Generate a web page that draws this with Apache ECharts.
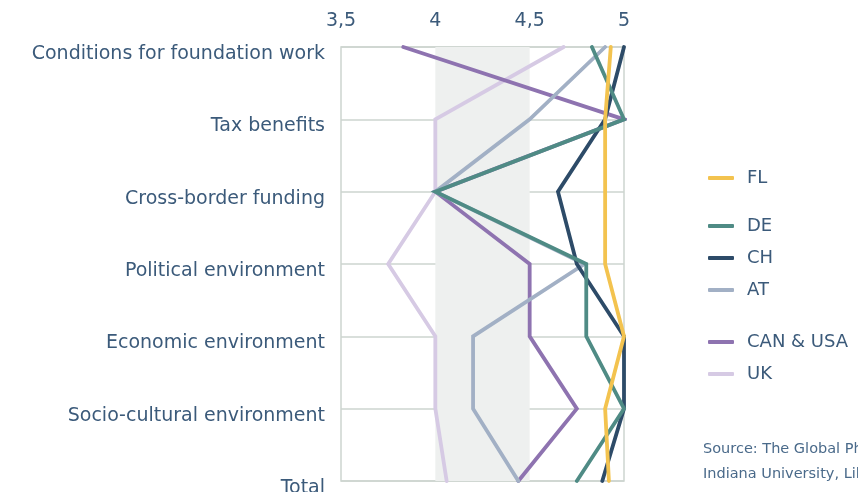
<!DOCTYPE html>
<html lang="en">
<head>
    <meta charset="UTF-8">
    <title>Philanthropy environment</title>
  <style>
    html, body { margin: 0; padding: 0; background: #fff; }
    #chart { width: 858px; height: 492px; }
  </style>
</head>
<body>
<div id="chart"></div>
<script src="https://cdn.jsdelivr.net/npm/echarts@6/dist/echarts.min.js"></script>
<script>
  // data
  const categories = ['Conditions for foundation work', 'Tax benefits', 'Cross-border funding',
    'Political environment', 'Economic environment', 'Socio-cultural environment', 'Total'];
  const fl  = [4.93, 4.9, 4.9, 4.9, 5.0, 4.9, 4.92];
  const de  = [4.83, 5.0, 4.0, 4.8, 4.8, 5.0, 4.75];
  const ch  = [5.0, 4.9, 4.65, 4.75, 5.0, 5.0, 4.885];
  const at  = [4.9, 4.5, 4.0, 4.79, 4.2, 4.2, 4.44];
  const can = [3.83, 5.0, 4.0, 4.5, 4.5, 4.75, 4.44];
  const uk  = [4.68, 4.0, 4.0, 3.75, 4.0, 4.0, 4.06];
  const xTicks = [3.5, 4, 4.5, 5];

  const textColor = '#3b5a7a';
  const gridColor = '#cdd5cf';
  const font = 'DejaVu Sans';

  let myChart = echarts.init(document.getElementById('chart'));

  function line(name, data, color) {
    return {
      name: name,
      type: 'line',
      data: data,
      symbol: 'none',
      lineStyle: { width: 3.8, color: color, cap: 'round', join: 'miter' },
      itemStyle: { color: color }
    };
  }

  let series = [
    line('UK', uk, '#d6cae4'),
    line('CAN & USA', can, '#8e73b0'),
    line('AT', at, '#a2b0c5'),
    line('CH', ch, '#2d4b68'),
    line('DE', de, '#4f8b85'),
    line('FL', fl, '#f3c34f')
  ];
  // grey band between 4 and 4,5
  series[0].markArea = {
    silent: true,
    itemStyle: { color: '#eef0ef' },
    data: [[{ xAxis: 4 }, { xAxis: 4.5 }]]
  };

  const legendBase = {
    orient: 'vertical',
    left: 703,
    itemWidth: 26,
    itemHeight: 4,
    itemGap: 14,
    icon: 'roundRect',
    textStyle: { color: textColor, fontSize: 18, fontFamily: font, padding: [0, 0, 0, 8] }
  };

  let option = {
    animation: false,
    grid: {
      left: 341, right: 234, top: 47, bottom: 11,
      containLabel: false,
      outerBoundsMode: 'none',
      show: true, borderColor: gridColor, borderWidth: 1.5, backgroundColor: 'transparent'
    },
    xAxis: {
      type: 'value',
      position: 'top',
      min: xTicks[0],
      max: xTicks[xTicks.length - 1],
      interval: 0.5,
      axisLine: { show: false },
      axisTick: { show: false },
      splitLine: { show: false },
      axisLabel: {
        color: textColor, fontSize: 19, fontFamily: font, margin: 16,
        formatter: v => String(v).replace('.', ',')
      }
    },
    yAxis: {
      type: 'category',
      data: categories,
      inverse: true,
      boundaryGap: false,
      axisLine: { show: false },
      axisTick: { show: false },
      splitLine: { show: true, lineStyle: { color: gridColor, width: 1.5 } },
      axisLabel: {
        color: textColor, fontSize: 19, fontFamily: font, margin: 16,
        formatter: v => '{a|' + v + '}',
        rich: { a: { fontSize: 19, fontFamily: font, color: textColor, padding: [14, 0, 0, 0] } }
      }
    },
    legend: [
      Object.assign({}, legendBase, { top: 164, data: ['FL'] }),
      Object.assign({}, legendBase, { top: 212, data: ['DE', 'CH', 'AT'] }),
      Object.assign({}, legendBase, { top: 328, data: ['CAN & USA', 'UK'] })
    ],
    graphic: [
      {
        type: 'text', left: 703, top: 437,
        style: {
          text: 'Source: The Global Philanthropy Environment Index\nIndiana University, Lilly Family School of Philanthropy',
          fill: '#4a6a8a', font: '14.5px ' + font, lineHeight: 25
        }
      }
    ],
    series: series
  };
  myChart.setOption(option);
</script>
</body>
</html>
